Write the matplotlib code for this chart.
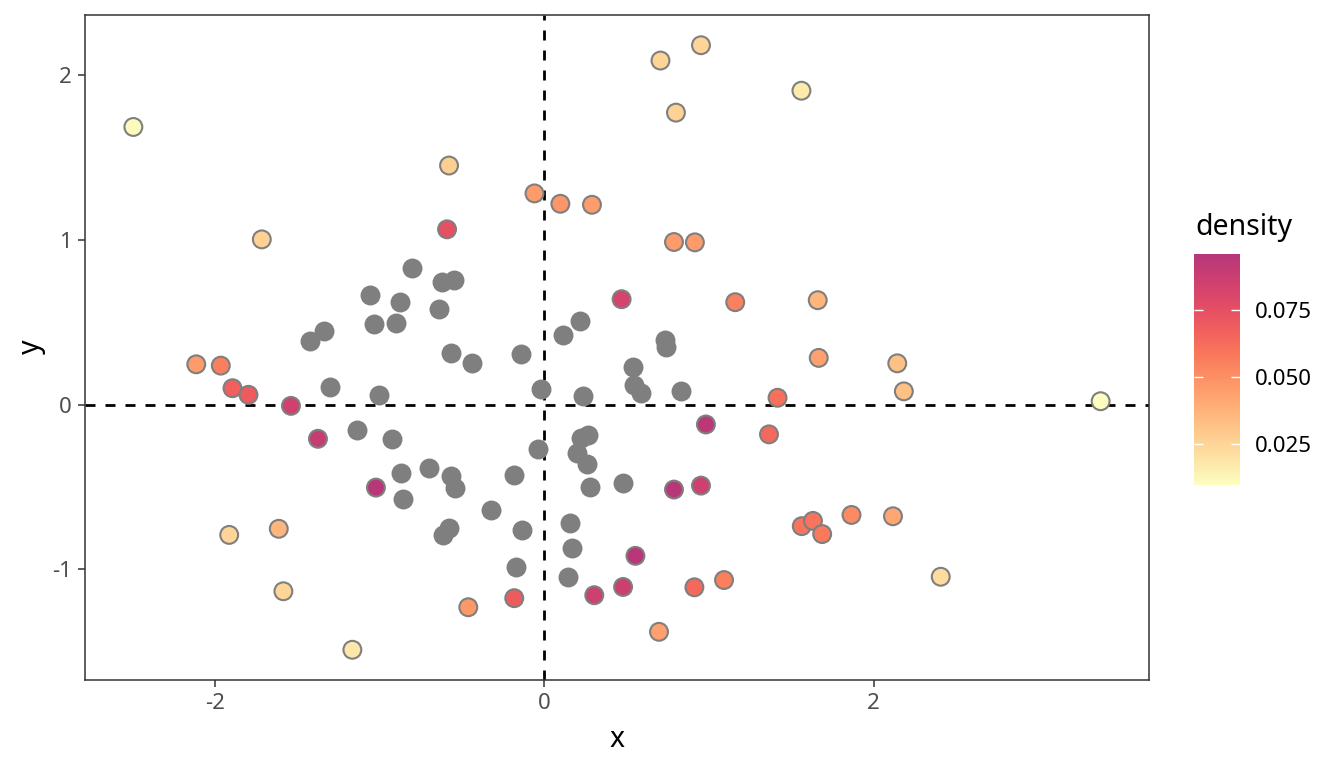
import numpy as np
import matplotlib
matplotlib.use("Agg")
import matplotlib.pyplot as plt
from matplotlib.colors import ListedColormap, Normalize

plt.rcParams["font.family"] = ["Noto Sans", "DejaVu Sans"]
plt.rcParams["axes.unicode_minus"] = False

# points with a density value (coloured)
dens_x = [-2.495, -0.578, -0.059, -1.715, -0.590, -2.113, -1.964, -1.893, -1.796, -1.538,
          -1.374, -1.022, -1.913, -1.612, -1.584, -1.165, -0.461, -0.182, 0.952, 0.706,
          1.562, 0.800, 0.098, 0.290, 0.788, 0.915, 0.470, 1.160, 1.661, 1.667,
          2.144, 2.184, 3.379, 1.417, 0.982, 1.365, 0.788, 0.952, 1.564, 1.632,
          1.688, 1.866, 2.118, 0.554, 0.304, 0.479, 0.912, 1.092, 2.408, 0.697]
dens_y = [1.684, 1.450, 1.281, 1.002, 1.063, 0.244, 0.236, 0.099, 0.059, -0.008,
          -0.208, -0.504, -0.791, -0.754, -1.133, -1.488, -1.230, -1.175, 2.180, 2.087,
          1.904, 1.771, 1.218, 1.212, 0.986, 0.984, 0.639, 0.621, 0.633, 0.283,
          0.250, 0.080, 0.020, 0.041, -0.121, -0.181, -0.516, -0.492, -0.738, -0.706,
          -0.786, -0.670, -0.678, -0.918, -1.157, -1.107, -1.109, -1.065, -1.045, -1.379]
density = [0.011, 0.027, 0.046, 0.026, 0.075, 0.046, 0.056, 0.067, 0.069, 0.085,
           0.089, 0.0959, 0.025, 0.036, 0.025, 0.018, 0.047, 0.069, 0.025, 0.025,
           0.017, 0.026, 0.048, 0.045, 0.046, 0.046, 0.083, 0.055, 0.036, 0.044,
           0.032, 0.032, 0.0097, 0.061, 0.094, 0.064, 0.095, 0.086, 0.060, 0.060,
           0.058, 0.052, 0.042, 0.095, 0.086, 0.087, 0.064, 0.056, 0.022, 0.044]

# points without a density value (grey)
na_x = [-0.802, -0.620, -0.550, -1.059, -0.873, -0.641, -1.035, -0.899, -1.335, -1.424,
        -0.565, -0.436, -0.139, -1.299, -1.004, -0.022, -1.135, -0.925, -0.035, -0.868,
        -0.699, -0.565, -0.544, -0.184, -0.856, -0.325, -0.576, -0.616, -0.135, -0.174,
        0.215, 0.112, 0.732, 0.739, 0.542, 0.547, 0.585, 0.234, 0.830, 0.264,
        0.222, 0.199, 0.257, 0.278, 0.479, 0.157, 0.168, 0.147]
na_y = [0.831, 0.746, 0.756, 0.664, 0.625, 0.579, 0.488, 0.494, 0.448, 0.383,
        0.313, 0.252, 0.304, 0.107, 0.059, 0.097, -0.157, -0.208, -0.272, -0.417,
        -0.383, -0.434, -0.504, -0.425, -0.575, -0.639, -0.750, -0.792, -0.760, -0.986,
        0.504, 0.423, 0.393, 0.347, 0.226, 0.117, 0.067, 0.054, 0.085, -0.186,
        -0.201, -0.296, -0.363, -0.500, -0.474, -0.718, -0.871, -1.048]

x_ticks = [-2, 0, 2]
y_ticks = [-1, 0, 1, 2]
cbar_ticks = [0.025, 0.050, 0.075]

cmap = ListedColormap(plt.cm.magma(np.linspace(1.0, 0.5, 256)))
norm = Normalize(vmin=min(density), vmax=max(density))

W, H = 1344, 768
fig = plt.figure(figsize=(W / 100, H / 100), dpi=100)
ax = fig.add_axes([85 / W, (H - 680) / H, (1149 - 85) / W, (680 - 15) / H])

all_x = np.array(dens_x + na_x)
all_y = np.array(dens_y + na_y)
xr = all_x.max() - all_x.min()
yr = all_y.max() - all_y.min()
ax.set_xlim(all_x.min() - 0.05 * xr, all_x.max() + 0.05 * xr)
ax.set_ylim(all_y.min() - 0.05 * yr, all_y.max() + 0.05 * yr)

ax.axhline(0, color="black", lw=2.0, linestyle=(0, (3.6, 3.6)), zorder=1)
ax.axvline(0, color="black", lw=2.0, linestyle=(0, (3.6, 3.6)), zorder=1)

ax.scatter(na_x, na_y, s=165, c="#7f7f7f", edgecolors="#7f7f7f", linewidths=1.5, zorder=2)
ax.scatter(dens_x, dens_y, s=165, c=density, cmap=cmap, norm=norm,
           edgecolors="#7f7f7f", linewidths=1.5, zorder=3)

ax.set_xticks(x_ticks)
ax.set_yticks(y_ticks)
ax.tick_params(axis="both", length=5.3, width=1.1, color="#333333",
               labelsize=16, labelcolor="#4d4d4d", pad=4)
for sp in ax.spines.values():
    sp.set_color("#333333")
    sp.set_linewidth(1.1)

fig.text(617 / W, (H - 747) / H, "x", ha="center", va="baseline", fontsize=20.5)
fig.text(31 / W, (H - 347) / H, "y", ha="center", va="center", rotation=90, fontsize=20.5)

# colour bar
cax = fig.add_axes([1194 / W, (H - 485) / H, 46 / W, (485 - 254) / H])
sm = plt.cm.ScalarMappable(norm=norm, cmap=cmap)
cb = fig.colorbar(sm, cax=cax, ticks=cbar_ticks)
cb.outline.set_visible(False)
cb.ax.set_yticklabels([f"{t:.3f}" for t in cbar_ticks])
cb.ax.tick_params(axis="y", direction="in", length=6.5, width=1.0, color="white",
                  left=True, right=True, labelsize=16, labelcolor="black", pad=11)
fig.text(1195 / W, (H - 235) / H, "density", ha="left", va="baseline", fontsize=20.5)

fig.savefig("out.png", dpi=100)
